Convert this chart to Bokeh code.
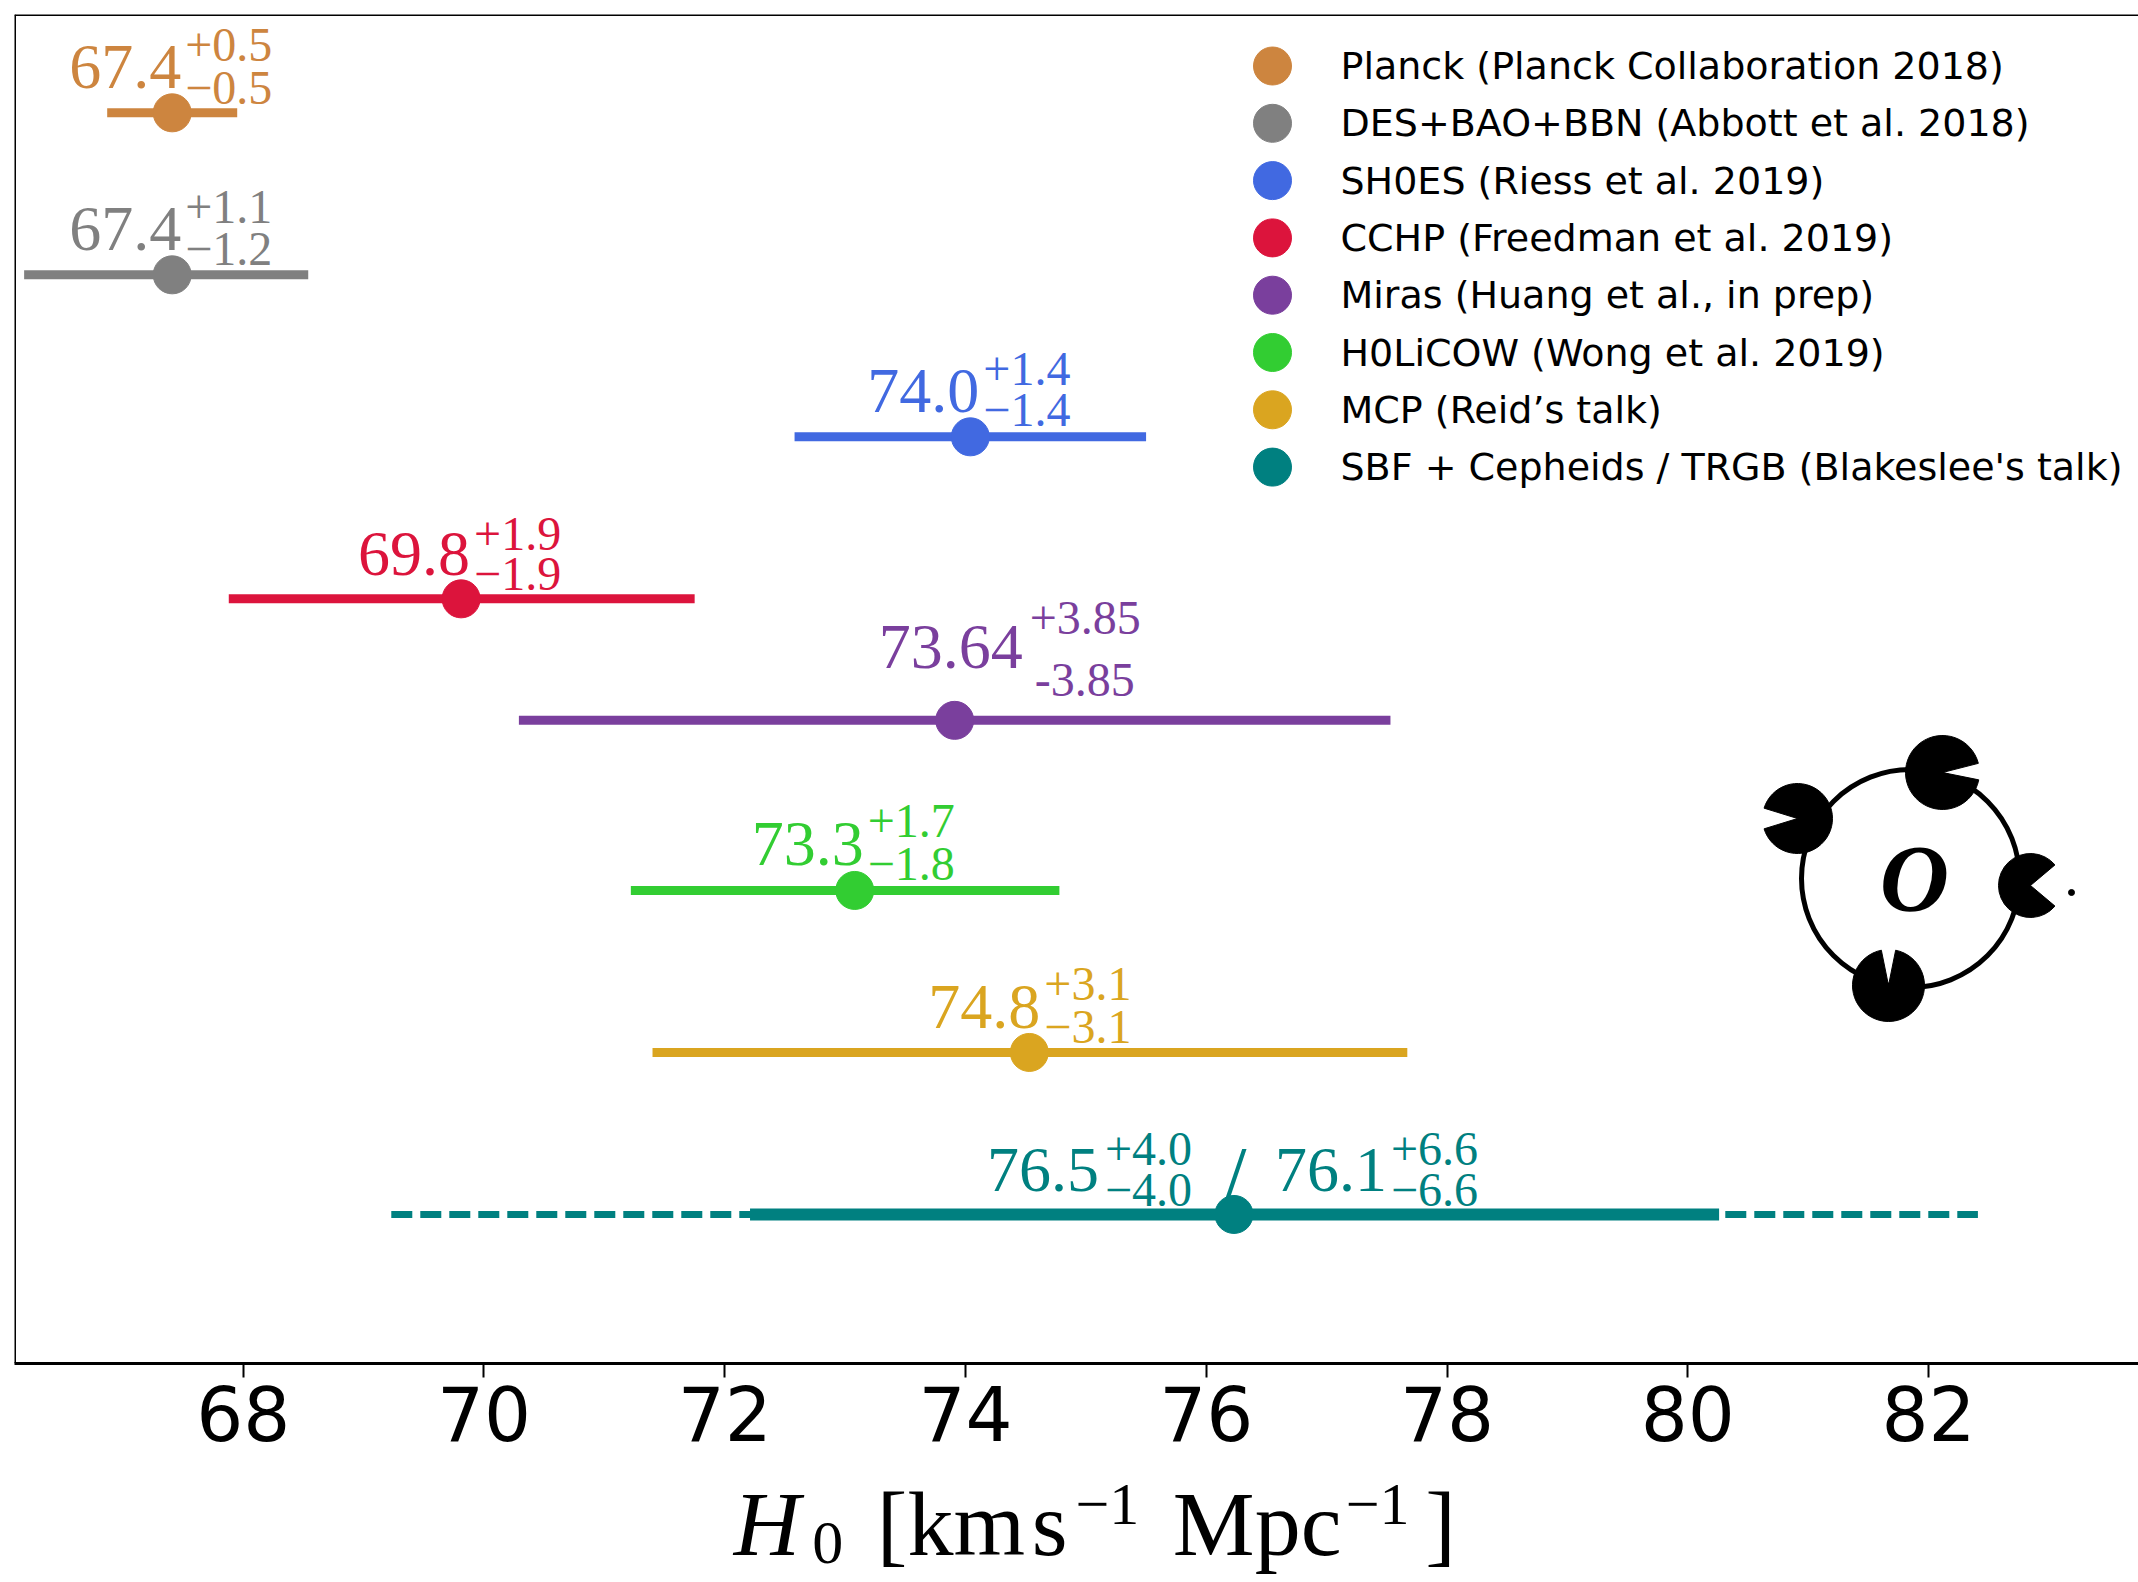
import numpy as np
from bokeh.plotting import figure
from bokeh.layouts import column
from bokeh.models import ColumnDataSource, Span, SingleIntervalTicker, Range1d
from bokeh.core.properties import value
from bokeh.embed import file_html
from bokeh.resources import INLINE

# ---------------- data ----------------
names = ["Planck (Planck Collaboration 2018)",
         "DES+BAO+BBN (Abbott et al. 2018)",
         "SH0ES (Riess et al. 2019)",
         "CCHP (Freedman et al. 2019)",
         "Miras (Huang et al., in prep)",
         "H0LiCOW (Wong et al. 2019)",
         "MCP (Reid\u2019s talk)",
         "SBF + Cepheids / TRGB (Blakeslee's talk)"]
centers = [67.41, 67.41, 74.04, 69.81, 73.91, 73.08, 74.53, 76.23]
lows = [66.87, 66.18, 72.58, 67.88, 70.29, 71.22, 71.40, 72.21]
highs = [67.95, 68.54, 75.50, 71.75, 77.53, 74.78, 77.67, 80.26]
sbf_wide_low = [69.23]
sbf_wide_high = [82.41]

main_labels = ["67.4", "67.4", "74.0", "69.8", "73.64", "73.3", "74.8", "76.5"]
plus_labels = ["+0.5", "+1.1", "+1.4", "+1.9", "+3.85", "+1.7", "+3.1", "+4.0"]
minus_labels = ["\u22120.5", "\u22121.2", "\u22121.4", "\u22121.9", "-3.85",
                "\u22121.8", "\u22123.1", "\u22124.0"]
sbf2_labels = ["/", "76.1", "+6.6", "\u22126.6"]

# ---------------- layout / style ----------------
colors = ["#cd853f", "#808080", "#4169e1", "#dc143c", "#7a3f9d",
          "#32cd32", "#daa520", "#008080"]
row_y = [8.0, 7.0, 6.0, 5.0, 4.25, 3.2, 2.2, 1.2]
bar_w = [9, 9, 9, 9, 9, 9, 9, 12]

MID = 0.38          # baseline -> middle-of-text distance (fraction of font size)
MAIN_FS, SUP_FS = 64, 48

# offsets (px) of the text baselines from the point
main_dx = [9, 9, 9, 9, 68, 9, 11, -135]
main_dy = [-22, -22, -22, -21, -49, -22, -21, -20]
sup_dx = [13, 13, 13, 13, 75, 13, 15, -129]
sup_dy = [-50, -50, -50, -47, -84, -51, -50, -47]
sub_dx = [13, 13, 13, 13, 80, 13, 15, -129]
sub_dy = [-7, -8, -9, -7, -22, -8, -7, -6]
sbf2_dx = [0, 41, 157, 157]
sbf2_dy = [-2, -20, -47, -6]
sbf2_fs = [90, MAIN_FS, SUP_FS, SUP_FS]
sbf2_align = ["center", "left", "left", "left"]

X0, X1 = 66.10, 83.744
Y0, Y1 = 0.28, 8.607
W = 2138
H_MAIN, H_LAB = 1472, 110
FL, FT, FB = 14, 14, 109
frame_w = W - FL
frame_h = H_MAIN - FT - FB


def px2x(px):
    return X0 + (px - FL) * (X1 - X0) / frame_w


def px2y(py):
    return Y0 + (FT + frame_h - py) * (Y1 - Y0) / frame_h


p = figure(width=W, height=H_MAIN, x_range=Range1d(X0, X1), y_range=Range1d(Y0, Y1),
           min_border_left=FL, min_border_right=0, min_border_top=FT,
           min_border_bottom=FB, y_axis_location=None, outline_line_color=None,
           toolbar_location=None, output_backend="svg",
           background_fill_color="white", border_fill_color="white")
p.grid.visible = False

n = len(names)
src = ColumnDataSource(dict(
    name=names, x=centers, lo=lows, hi=highs, y=row_y, color=colors, w=bar_w,
    main=main_labels, plus=plus_labels, minus=minus_labels,
    mdx=main_dx, mdy=[d - MID * MAIN_FS for d in main_dy],
    sdx=sup_dx, sdy=[d - MID * SUP_FS for d in sup_dy],
    bdx=sub_dx, bdy=[d - MID * SUP_FS for d in sub_dy]))

# error bars
p.segment(x0=sbf_wide_low, x1=sbf_wide_high, y0=[row_y[-1]], y1=[row_y[-1]],
          line_color=colors[-1], line_width=7, line_dash="21 8")
p.segment(x0="lo", x1="hi", y0="y", y1="y", line_color="color",
          line_width="w", source=src)
p.scatter(x="x", y="y", size=38, fill_color="color", line_color="color", source=src)

# value labels
serif = value("Liberation Serif")
p.text(x="x", y="y", text="main", x_offset="mdx", y_offset="mdy",
       text_color="color", text_font=serif, text_font_size=value(f"{MAIN_FS}px"),
       text_align="right", text_baseline="middle", source=src)
p.text(x="x", y="y", text="plus", x_offset="sdx", y_offset="sdy",
       text_color="color", text_font=serif, text_font_size=value(f"{SUP_FS}px"),
       text_align="left", text_baseline="middle", source=src)
p.text(x="x", y="y", text="minus", x_offset="bdx", y_offset="bdy",
       text_color="color", text_font=serif, text_font_size=value(f"{SUP_FS}px"),
       text_align="left", text_baseline="middle", source=src)
for t, dx, dy, fs, al in zip(sbf2_labels, sbf2_dx, sbf2_dy, sbf2_fs, sbf2_align):
    p.text(x=[centers[-1]], y=[row_y[-1]], text=[t], x_offset=dx,
           y_offset=dy - MID * fs, text_color=colors[-1], text_font=serif,
           text_font_size=value(f"{fs}px"), text_align=al, text_baseline="middle")

# legend (drawn as markers + texts, inside the frame, upper right)
LEG_CX, LEG_TX, LEG_CY0, LEG_STEP = 1272, 1340, 65.5, 57.3
leg_y = [px2y(LEG_CY0 + i * LEG_STEP) for i in range(n)]
p.scatter(x=[px2x(LEG_CX)] * n, y=leg_y, size=38, fill_color=colors, line_color=colors)
p.text(x=[px2x(LEG_TX)] * n, y=leg_y, text=names, text_font=value("DejaVu Sans"),
       text_font_size=value("38px"), text_color="black", text_align="left",
       text_baseline="middle")

# frame lines
p.add_layout(Span(location=X0, dimension="height", line_color="black", line_width=3))
p.add_layout(Span(location=Y1, dimension="width", line_color="black", line_width=3))

# x axis
ax = p.xaxis[0]
ax.ticker = SingleIntervalTicker(interval=2)
ax.axis_line_width = 3
ax.axis_line_color = "black"
ax.major_tick_out = 14
ax.major_tick_in = 0
ax.major_tick_line_width = 2
ax.minor_tick_line_color = None
ax.major_label_text_font = "DejaVu Sans"
ax.major_label_text_font_size = "74px"
ax.major_label_text_color = "black"
ax.major_label_standoff = 8

# H0LiCOW logo (decoration)
cx, cy = 1910, 878
p.scatter(x=[px2x(cx)], y=[px2y(cy)], size=218, marker="circle",
          fill_color=None, line_color="black", line_width=5)
p.wedge(x=[px2x(1942)], y=[px2y(772)], radius=37, radius_units="screen",
        start_angle=0.25, end_angle=2 * np.pi - 0.2, color="black")
p.wedge(x=[px2x(2030)], y=[px2y(885)], radius=32, radius_units="screen",
        start_angle=0.7, end_angle=2 * np.pi - 0.7, color="black")
p.scatter(x=[px2x(2071)], y=[px2y(892)], size=6, color="black")
p.wedge(x=[px2x(1797)], y=[px2y(818)], radius=35, radius_units="screen",
        start_angle=-np.pi + 0.3, end_angle=np.pi - 0.3, color="black")
p.wedge(x=[px2x(1888)], y=[px2y(985)], radius=36, radius_units="screen",
        start_angle=np.pi / 2 + 0.2, end_angle=2.5 * np.pi - 0.2, color="black")
p.text(x=[px2x(cx + 4)], y=[px2y(cy)], text=["O"], text_font=serif,
       text_font_style="bold italic", text_font_size=value("96px"),
       text_align="center", text_baseline="middle", text_color="black")

# ---------------- axis label strip (serif, math-like) ----------------
q = figure(width=W, height=H_LAB, x_range=Range1d(0, W),
           y_range=Range1d(H_MAIN + H_LAB, H_MAIN),
           min_border_left=0, min_border_right=0, min_border_top=0,
           min_border_bottom=0, x_axis_location=None, y_axis_location=None,
           outline_line_color=None, toolbar_location=None, output_backend="svg",
           background_fill_color="white", border_fill_color="white")
q.grid.visible = False
lab_parts = [("H", 724, 1558, 92, "italic"),
             ("0", 803, 1566, 62, "normal"),
             ("[km", 868, 1558, 92, "normal"),
             ("s", 1024, 1558, 92, "normal"),
             ("\u22121", 1068, 1527, 60, "normal"),
             ("Mpc", 1166, 1558, 92, "normal"),
             ("\u22121", 1340, 1527, 60, "normal"),
             ("]", 1420, 1558, 92, "normal")]
for t, xp, yp, fs, st in lab_parts:
    q.text(x=[xp], y=[yp], text=[t], y_offset=-MID * fs,
           text_font=serif, text_font_size=value(f"{fs}px"),
           text_font_style=st, text_color="black", text_align="left",
           text_baseline="middle")

layout = column(p, q, spacing=0)
open("out.html", "w").write(file_html(layout, INLINE))
